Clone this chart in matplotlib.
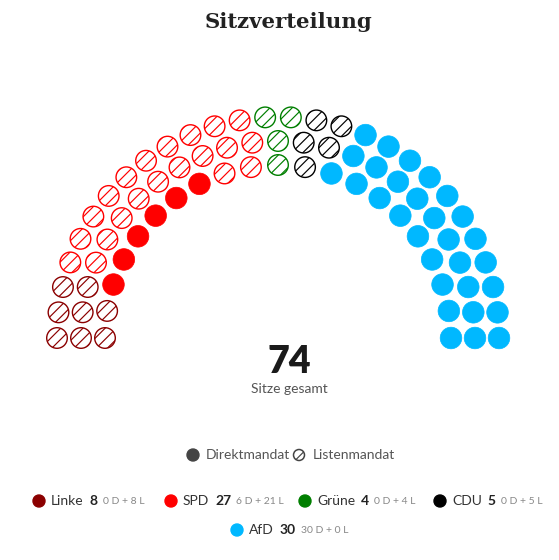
"""Sitzverteilung: parliament arc with direct / list seats."""

import numpy as np
import matplotlib.pyplot as plt
from matplotlib.patches import Circle

plt.rcParams['hatch.linewidth'] = 0.85

# Parties, left to right.
parties = ['Linke', 'SPD', 'Grüne', 'CDU', 'AfD']
colors = ['#8b0000', '#ff0000', '#007f00', '#000000', '#00b8ff']
direct = [0, 6, 0, 0, 30]
listed = [8, 21, 4, 5, 0]
seats = [d + l for d, l in zip(direct, listed)]
total = sum(seats)

# Layout (pixels, y down).
W, H = 559, 560
cx, cy = 278, 338
row_radii = [173, 197, 221]
seat_r = 10.8

fig = plt.figure(figsize=(W / 100, H / 100), dpi=100)
ax = fig.add_axes([0, 0, 1, 1])
ax.set_xlim(0, W)
ax.set_ylim(H, 0)
ax.axis('off')

# Seats per row proportional to radius.
share = np.array(row_radii) / sum(row_radii) * total
per_row = np.floor(share).astype(int)
for i in np.argsort(-(share - per_row))[:total - per_row.sum()]:
    per_row[i] += 1

pos = []
for r, n in zip(row_radii, per_row):
    for a in np.linspace(np.pi, 0, n):
        pos.append((round(a, 6), r))
# Left to right, outer row first on ties.
pos.sort(key=lambda p: (-p[0], -p[1]))

start = 0
for name, col, d, n in zip(parties, colors, direct, seats):
    block = pos[start:start + n]
    start += n
    # Direct seats go to the inner rows first.
    order = sorted(block, key=lambda p: (p[1], -p[0]))
    for k, (a, r) in enumerate(order):
        x = cx + r * np.cos(a)
        y = cy - r * np.sin(a)
        if k < d:
            ax.add_patch(Circle((x, y), seat_r, facecolor=col,
                                edgecolor=col, lw=0.5))
        else:
            ax.add_patch(Circle((x, y), seat_r - 0.5, facecolor='white',
                                edgecolor=col, hatch='///', lw=1.0))

sans = ['Lato', 'DejaVu Sans']
ax.text(289, 22, 'Sitzverteilung', ha='center', va='center',
        family='DejaVu Serif', weight='bold', fontsize=15.3, color='#222')
ax.text(289, 362, str(total), ha='center', va='center', family=sans,
        weight='heavy', fontsize=27, color='#1a1a1a')
ax.text(289, 389, 'Sitze gesamt', ha='center', va='center', family=sans,
        fontsize=10, color='#555')

fig.canvas.draw()
renderer = fig.canvas.get_renderer()


def width(t):
    return t.get_window_extent(renderer).width


# Mandate legend.
ax.add_patch(Circle((193, 455), 6, facecolor='#444', edgecolor='#444'))
ax.text(206, 455, 'Direktmandat', ha='left', va='center', family=sans,
        fontsize=10, color='#555')
ax.add_patch(Circle((299, 455), 5.5, facecolor='white', edgecolor='#444',
                    hatch='///', lw=1.1))
ax.text(313, 455, 'Listenmandat', ha='left', va='center', family=sans,
        fontsize=10, color='#555')

# Party legend.
item_x = [33, 165, 299, 434, 231]
item_y = [501, 501, 501, 501, 530]
for name, col, d, l, n, x0, y0 in zip(parties, colors, direct, listed,
                                      seats, item_x, item_y):
    ax.add_patch(Circle((x0 + 6, y0), 6, facecolor=col, edgecolor=col))
    t = ax.text(x0 + 18, y0, name, ha='left', va='center', family=sans,
                fontsize=10, color='#333')
    x = x0 + 18 + width(t) + 6
    t = ax.text(x, y0, str(n), ha='left', va='center', family=sans,
                fontsize=10, weight='bold', color='#222')
    x += width(t) + 5
    ax.text(x, y0 + 0.5, f'{d} D + {l} L', ha='left', va='center',
            family=sans, fontsize=7.5, color='#888')

fig.savefig('out.png', dpi=100)
